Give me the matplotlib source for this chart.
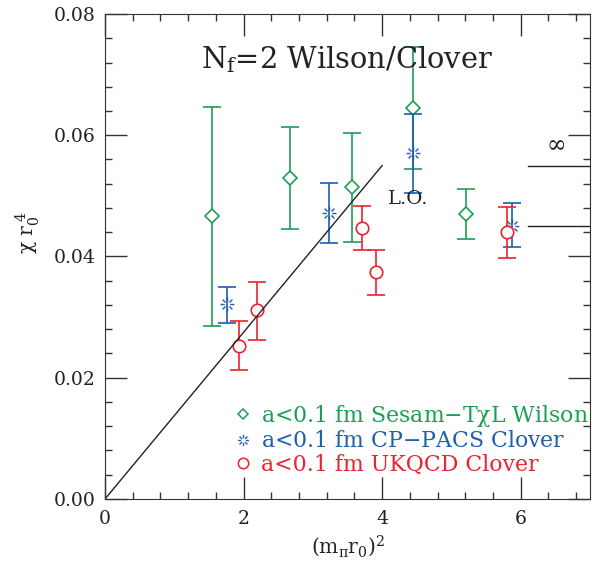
import numpy as np
import matplotlib
matplotlib.use("Agg")
import matplotlib.pyplot as plt
from matplotlib.path import Path
from matplotlib.lines import Line2D

plt.rcParams['font.family'] = ['DejaVu Serif']
plt.rcParams['mathtext.fontset'] = 'custom'
plt.rcParams['mathtext.rm'] = 'DejaVu Serif'
plt.rcParams['mathtext.it'] = 'DejaVu Serif'

# data
sesam_x = [1.545, 2.67, 3.57, 4.45, 5.21]
sesam_y = [0.0467, 0.0530, 0.0514, 0.0645, 0.0470]
sesam_lo = [0.0286, 0.0445, 0.0424, 0.0544, 0.0429]
sesam_hi = [0.0647, 0.0614, 0.0604, 0.0746, 0.0511]

cppacs_x = [1.76, 3.23, 4.45, 5.87]
cppacs_y = [0.0321, 0.0472, 0.0570, 0.0451]
cppacs_lo = [0.0291, 0.0422, 0.0505, 0.0416]
cppacs_hi = [0.0350, 0.0522, 0.0635, 0.0488]

ukqcd_x = [1.93, 2.20, 3.71, 3.91, 5.80]
ukqcd_y = [0.0252, 0.0311, 0.0447, 0.0374, 0.0440]
ukqcd_lo = [0.0212, 0.0263, 0.0410, 0.0336, 0.0398]
ukqcd_hi = [0.0294, 0.0358, 0.0483, 0.0411, 0.0481]

lo_x = [0.0, 4.0]
lo_y = [0.0, 0.055]
inf_x = [6.1, 7.0]
inf_levels = [0.055, 0.045]

green = '#1aa055'
blue = '#1e5fae'
red = '#ec2230'

# broken asterisk: 8 spokes with a hole in the middle
verts, codes = [], []
for a in np.deg2rad(np.arange(0, 360, 45)):
    verts += [(0.4 * np.cos(a), 0.4 * np.sin(a)), (np.cos(a), np.sin(a))]
    codes += [Path.MOVETO, Path.LINETO]
star = Path(verts, codes)

fig = plt.figure(figsize=(5.92, 5.67), dpi=100)
ax = fig.add_axes([0.1774, 0.12, 0.8192, 0.8553])


def err(ax, x, y, lo, hi, col, mk, ms, mew=1.2):
    y = np.array(y)
    yerr = [y - np.array(lo), np.array(hi) - y]
    ax.errorbar(x, y, yerr=yerr, fmt='none', ecolor=col, elinewidth=1.2,
                capsize=6.5, capthick=1.2)
    ax.plot(x, y, linestyle='none', marker=mk, ms=ms, mfc='white',
            mec=col, mew=mew, color=col)


err(ax, sesam_x, sesam_y, sesam_lo, sesam_hi, green, 'D', 7)
err(ax, cppacs_x, cppacs_y, cppacs_lo, cppacs_hi, blue, star, 10, 1.0)
err(ax, ukqcd_x, ukqcd_y, ukqcd_lo, ukqcd_hi, red, 'o', 9)

ax.plot(lo_x, lo_y, color='#222222', lw=1.0)
for lev in inf_levels:
    ax.plot(inf_x, [lev, lev], color='#222222', lw=1.0)

ax.text(4.08, 0.0495, 'L.O.', fontsize=14, va='center', ha='left', color='#222222')
ax.text(6.52, 0.0582, '\u221e', fontsize=17, va='center', ha='center', color='#222222')
ax.text(0.197, 0.905, r'$\mathrm{N_f}$=2 Wilson/Clover', transform=ax.transAxes,
        fontsize=20.8, va='center', ha='left', color='#222222')

handles = [
    Line2D([], [], ls='none', marker='D', ms=5.5, mfc='white', mec=green, mew=1.1, color=green),
    Line2D([], [], ls='none', marker=star, ms=8, mfc='white', mec=blue, mew=1.0, color=blue),
    Line2D([], [], ls='none', marker='o', ms=7.5, mfc='white', mec=red, mew=1.1, color=red),
]
labels = [r'a<0.1 fm Sesam$-$T$\chi$L Wilson', r'a<0.1 fm CP$-$PACS Clover',
          'a<0.1 fm UKQCD Clover']
ax.legend(handles, labels, loc='lower left', bbox_to_anchor=(0.27, 0.047),
          frameon=False, fontsize=15.8, labelcolor='linecolor', handlelength=0.6,
          handletextpad=0.55, labelspacing=0.08, borderpad=0, borderaxespad=0)

ax.set_xlim(0, 7)
ax.set_ylim(0, 0.08)
ax.set_xticks([0, 2, 4, 6])
ax.set_xticks(np.arange(0, 7.01, 0.4), minor=True)
ax.set_yticks(np.arange(0, 0.0801, 0.02))
ax.set_yticks(np.arange(0, 0.0801, 0.004), minor=True)
ax.yaxis.set_major_formatter(plt.FormatStrFormatter('%.2f'))
ax.tick_params(which='both', direction='in', top=True, right=True,
               colors='#333333', labelcolor='#222222', labelsize=13.5, width=1.0)
ax.tick_params(which='major', length=16, pad=8)
ax.tick_params(axis='y', which='major', pad=7)
ax.tick_params(which='minor', length=5)
for s in ax.spines.values():
    s.set_color('#333333')

ax.set_xlabel(r'$(\mathrm{m}_\pi \mathrm{r}_0)^2$', fontsize=14.5, color='#222222')
ax.xaxis.set_label_coords(0.5, -0.07)
ax.set_ylabel(r'$\chi\ \mathrm{r}_0^{\ 4}$', fontsize=14.5, color='#222222')
ax.yaxis.set_label_coords(-0.13, 0.55)

fig.savefig('out.png', dpi=100)
